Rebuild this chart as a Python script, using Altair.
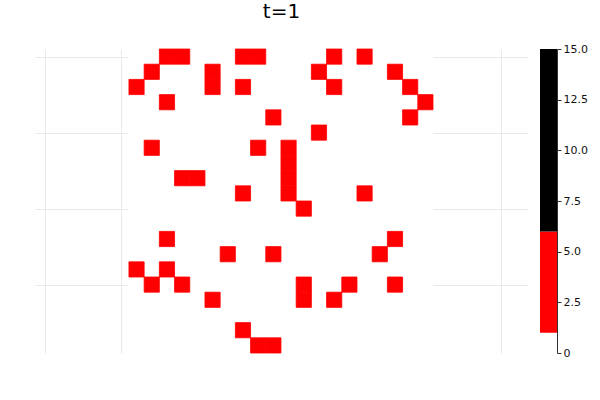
import altair as alt
import pandas as pd

# Grid size
n_cols = 20
n_rows = 20

# Red (live) cells: row number counted from the top (1 = top row) -> list of column indices
red_cells_by_row_from_top = {
    1: [3, 4, 8, 9, 14, 16],
    2: [2, 6, 13, 18],
    3: [1, 6, 8, 14, 19],
    4: [3, 20],
    5: [10, 19],
    6: [13],
    7: [2, 9, 11],
    8: [11],
    9: [4, 5, 11],
    10: [8, 11, 16],
    11: [12],
    12: [],
    13: [3, 18],
    14: [7, 10, 17],
    15: [1, 3],
    16: [2, 4, 12, 15, 18],
    17: [6, 12, 14],
    18: [],
    19: [8],
    20: [9, 10],
}
live_value = 1

# Colour bar bands
band_lo = [0, 1, 6]
band_hi = [1, 6, 15]
band_colors = ["white", "red", "black"]
cbar_ticks = [0, 2.5, 5, 7.5, 10, 12.5, 15]

x_grid = [-5, 0, 5, 10, 15, 20, 25]
y_grid = [0, 5, 10, 15, 20]

rows = []
for r in range(1, n_rows + 1):
    y = n_rows + 1 - r
    live = red_cells_by_row_from_top[r]
    for c in range(1, n_cols + 1):
        rows.append({"col": c, "row": y, "v": live_value if c in live else 0})
cells = pd.DataFrame(rows)

color_scale = alt.Scale(type="threshold", domain=[1, 6], range=band_colors)
xs = alt.Scale(domain=[-5.68, 26.75], nice=False, zero=False)
ys = alt.Scale(domain=[0.5, 20.5], nice=False, zero=False)

base = alt.Chart(cells).transform_calculate(
    x0="datum.col - 0.5", x1="datum.col + 0.5",
    y0="datum.row - 0.5", y1="datum.row + 0.5",
)

white_cells = base.transform_filter("datum.v < 1").mark_rect(stroke="white", strokeWidth=0.8).encode(
    x=alt.X("x0:Q", scale=xs,
            axis=alt.Axis(values=x_grid, grid=True, labels=False, ticks=False,
                          domain=False, title=None)),
    x2="x1:Q",
    y=alt.Y("y0:Q", scale=ys,
            axis=alt.Axis(values=y_grid, grid=True, labels=False, ticks=False,
                          domain=False, title=None)),
    y2="y1:Q",
    color=alt.Color("v:Q", scale=color_scale, legend=None),
)

red_cells = base.transform_filter("datum.v >= 1").mark_rect(stroke="red", strokeWidth=0.8).encode(
    x=alt.X("x0:Q", scale=xs),
    x2="x1:Q",
    y=alt.Y("y0:Q", scale=ys),
    y2="y1:Q",
    color=alt.Color("v:Q", scale=color_scale, legend=None),
)

heat = alt.layer(white_cells, red_cells).properties(
    width=493, height=304,
    title=alt.TitleParams("t=1", fontSize=20, font="DejaVu Sans", fontWeight="normal",
                          color="black", anchor="middle", baseline="alphabetic",
                          offset=11),
)

bands = pd.DataFrame({"lo": band_lo, "hi": band_hi, "c": band_colors})
cbar = (
    alt.Chart(bands)
    .mark_rect()
    .encode(
        y=alt.Y("lo:Q", scale=alt.Scale(domain=[0, 15], nice=False, zero=False),
                axis=alt.Axis(orient="right", values=cbar_ticks, grid=False, title=None,
                              labelExpr="datum.value == 0 ? '0' : format(datum.value, '.1f')",
                              tickSize=4, labelPadding=2, labelFontSize=11,
                              labelFont="DejaVu Sans", labelColor="#111",
                              domainColor="#333", tickColor="#333")),
        y2="hi:Q",
        color=alt.Color("c:N", scale=None, legend=None),
    )
    .properties(width=17, height=304)
)

chart = (
    alt.hconcat(heat, cbar, spacing=12, bounds="flush")
    .properties(padding={"left": 35, "top": 1, "right": 5, "bottom": 5})
    .configure_view(stroke=None)
    .configure_axis(gridColor="#e9e9e9", gridWidth=1)
)

chart.save("out.html", embed_options={"renderer": "svg", "actions": False})
